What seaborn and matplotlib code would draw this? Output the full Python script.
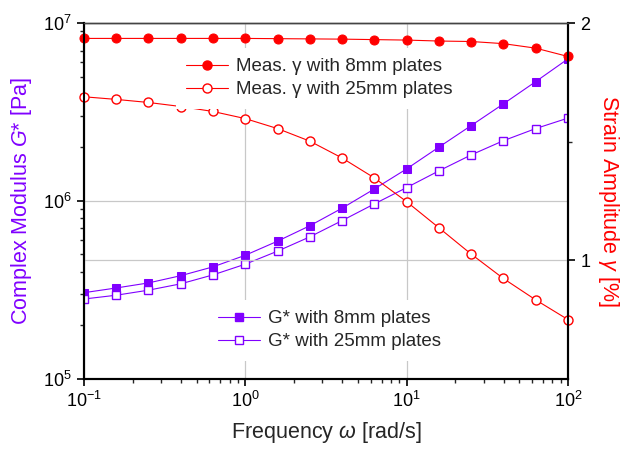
import numpy as np
import pandas as pd
import matplotlib
matplotlib.use('Agg')
import matplotlib.pyplot as plt
import matplotlib.ticker as mticker
from matplotlib.lines import Line2D
import seaborn as sns

# frequency sweep, 5 points per decade
freq = [0.1, 0.158, 0.251, 0.398, 0.631, 1.0, 1.585, 2.512, 3.981, 6.31,
        10.0, 15.85, 25.12, 39.81, 63.1, 100.0]
g_8mm = [3.05e5, 3.24e5, 3.46e5, 3.80e5, 4.26e5, 4.95e5, 5.94e5, 7.25e5, 9.10e5, 1.167e6,
         1.513e6, 2.005e6, 2.65e6, 3.51e6, 4.68e6, 6.28e6]
g_25mm = [2.81e5, 2.95e5, 3.15e5, 3.42e5, 3.84e5, 4.41e5, 5.22e5, 6.28e5, 7.75e5, 9.62e5,
          1.188e6, 1.475e6, 1.813e6, 2.18e6, 2.55e6, 2.92e6]
gamma_8mm = [1.935, 1.935, 1.935, 1.935, 1.935, 1.935, 1.934, 1.933, 1.932, 1.930,
             1.928, 1.924, 1.922, 1.913, 1.894, 1.859]
gamma_25mm = [1.689, 1.678, 1.665, 1.648, 1.627, 1.597, 1.555, 1.502, 1.431, 1.347,
              1.247, 1.137, 1.026, 0.923, 0.833, 0.750]

purple = '#8000FF'
red = '#FF0000'

sns.set_style('white')
plt.rcParams['font.family'] = ['Liberation Sans', 'DejaVu Sans']
plt.rcParams['mathtext.fontset'] = 'custom'
plt.rcParams['mathtext.rm'] = 'Liberation Sans'
plt.rcParams['mathtext.it'] = 'Liberation Sans:italic'

fig, ax = plt.subplots(figsize=(6.22, 4.51), dpi=100)
fig.subplots_adjust(left=0.135, right=0.913, bottom=0.160, top=0.949)
ax2 = ax.twinx()

df = pd.DataFrame({'freq': freq, 'g8': g_8mm, 'g25': g_25mm,
                   'y8': gamma_8mm, 'y25': gamma_25mm})

lw = 0.8
sns.lineplot(data=df, x='freq', y='g8', ax=ax, color=purple, lw=lw, marker='s',
             markersize=5.5, markerfacecolor=purple, markeredgecolor=purple)
sns.lineplot(data=df, x='freq', y='g25', ax=ax, color=purple, lw=lw, marker='s',
             markersize=5.5, markerfacecolor='white', markeredgecolor=purple, markeredgewidth=1)
sns.lineplot(data=df, x='freq', y='y8', ax=ax2, color=red, lw=lw, marker='o',
             markersize=6.5, markerfacecolor=red, markeredgecolor=red, clip_on=False)
sns.lineplot(data=df, x='freq', y='y25', ax=ax2, color=red, lw=lw, marker='o',
             markersize=6.5, markerfacecolor='white', markeredgecolor=red, markeredgewidth=1,
             clip_on=False)

ax.set_xscale('log')
ax.set_yscale('log')
ax.set_xlim(0.1, 100)
ax.set_ylim(1e5, 1e7)
ax2.set_ylim(0.5, 2)

ax.xaxis.set_major_locator(mticker.LogLocator(base=10, numticks=10))
ax.xaxis.set_minor_locator(mticker.LogLocator(base=10, subs=np.arange(2, 10), numticks=10))
ax.yaxis.set_major_locator(mticker.LogLocator(base=10, numticks=10))
ax.yaxis.set_minor_locator(mticker.LogLocator(base=10, subs=np.arange(2, 10), numticks=10))
ax2.yaxis.set_major_locator(mticker.FixedLocator([1, 2]))
ax2.yaxis.set_minor_locator(mticker.FixedLocator([1.5]))
ax2.yaxis.set_major_formatter(mticker.FormatStrFormatter('%d'))

grid_kw = dict(color='#c8c8c8', linewidth=0.9)
ax.xaxis.grid(True, which='major', **grid_kw)
ax.yaxis.grid(True, which='major', **grid_kw)
ax2.yaxis.grid(True, which='major', **grid_kw)
ax2.xaxis.grid(False)

for a in (ax, ax2):
    a.tick_params(which='major', direction='out', length=5, width=1.2, labelsize=13,
                  colors='black', pad=4)
    a.tick_params(which='minor', direction='out', length=3, width=1.0)
ax.tick_params(axis='both', which='both', left=True, bottom=True, right=False, top=False)
ax2.tick_params(axis='y', which='both', right=True, left=False)

for a in (ax, ax2):
    for side in ('left', 'bottom', 'right'):
        a.spines[side].set_linewidth(1.5)
        a.spines[side].set_color('black')
    a.spines['top'].set_linewidth(1.0)
    a.spines['top'].set_color('#444444')

ax.set_xlabel(r'Frequency $\omega$ [rad/s]', fontsize=15.5, labelpad=6)
ax.set_ylabel(r'Complex Modulus $G$* [Pa]', fontsize=15.5, color=purple, labelpad=6)
ax2.set_ylabel(r'Strain Amplitude $\gamma$ [%]', fontsize=15.5, color=red,
               rotation=270, labelpad=22)

leg_kw = dict(frameon=True, framealpha=1, facecolor='white', edgecolor='none',
              fancybox=False, fontsize=13.5, handlelength=2.25, handletextpad=0.43,
              labelspacing=0.32, borderpad=0.55, borderaxespad=0)

top_handles = [
    Line2D([], [], color=red, lw=lw, marker='o', markersize=6.5,
           markerfacecolor=red, markeredgecolor=red),
    Line2D([], [], color=red, lw=lw, marker='o', markersize=6.5,
           markerfacecolor='white', markeredgecolor=red),
]
leg_top = ax2.legend(top_handles, ['Meas. γ with 8mm plates', 'Meas. γ with 25mm plates'],
                     loc='upper left', bbox_to_anchor=(0.19, 0.93), **leg_kw)
leg_top.set_zorder(5)

bot_handles = [
    Line2D([], [], color=purple, lw=lw, marker='s', markersize=5.5,
           markerfacecolor=purple, markeredgecolor=purple),
    Line2D([], [], color=purple, lw=lw, marker='s', markersize=5.5,
           markerfacecolor='white', markeredgecolor=purple),
]
leg_bot = ax2.legend(bot_handles, ['G* with 8mm plates', 'G* with 25mm plates'],
                     loc='upper left', bbox_to_anchor=(0.256, 0.222), **leg_kw)
ax2.add_artist(leg_top)

fig.savefig('out.png', dpi=100)
